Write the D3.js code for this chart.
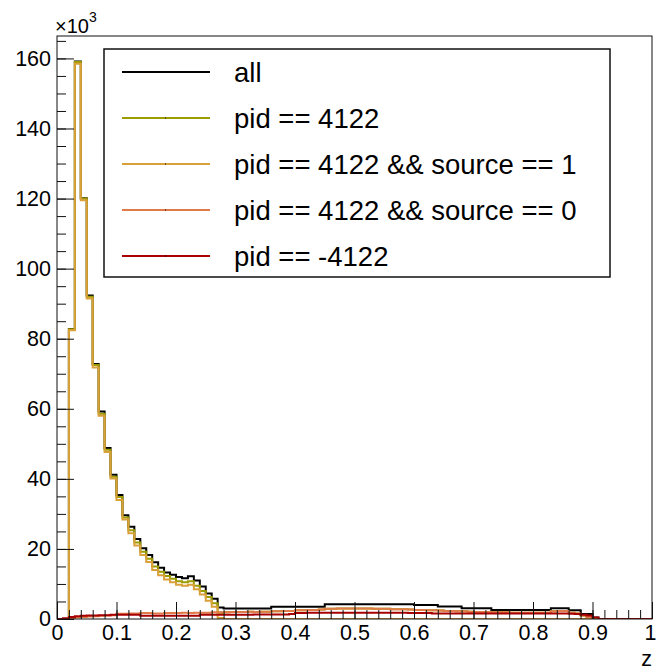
<!DOCTYPE html>
<html>
<head>
<meta charset="utf-8">
<script src="https://cdn.jsdelivr.net/npm/d3@7"></script>
<style>
  body { margin: 0; background: #fff; }
  text { font-family: "Liberation Sans", Arial, sans-serif; fill: #000; }
</style>
</head>
<body>
<script>
// histogram binning: 100 bins on z in [0,1]
const zMin = 0, zMax = 1, nBins = 100;

// bin contents in units of 10^3 entries
const allCounts = [
  0, 0, 82.8, 159.1, 120.1, 92.3, 72.8, 59.2, 48.8, 41.2,
  35.4, 29.6, 26.3, 22.8, 20.2, 18.3, 16.2, 14.6, 13.3, 12.6,
  12.0, 11.6, 12.2, 11.0, 9.3, 7.3, 5.8, 3.3, 3.0, 3.0,
  3.0, 3.0, 3.0, 3.0, 3.0, 3.0, 3.5, 3.5, 3.5, 3.5,
  3.5, 3.5, 3.5, 3.5, 3.5, 4.2, 4.2, 4.2, 4.2, 4.2,
  4.2, 4.2, 4.2, 4.2, 4.2, 4.2, 4.2, 4.2, 4.2, 4.2,
  4.0, 4.0, 4.0, 4.0, 3.6, 3.6, 3.6, 3.6, 3.1, 3.1,
  3.1, 3.1, 3.1, 2.6, 2.6, 2.6, 2.6, 2.6, 2.6, 2.6,
  2.6, 2.6, 2.6, 3.1, 3.1, 3.1, 2.5, 2.5, 1.4, 1.4,
  0.4, 0, 0, 0, 0, 0, 0, 0, 0, 0
];
const pidCounts = [
  0, 0, 82.7, 159.0, 120.0, 92.0, 72.5, 58.6, 48.3, 40.6,
  34.8, 29.0, 25.3, 21.8, 19.2, 17.2, 15.0, 13.5, 12.3, 11.5,
  10.8, 10.5, 10.8, 9.5, 8.0, 6.3, 4.5, 1.8, 1.9, 2.0,
  2.0, 2.0, 2.1, 2.0, 2.1, 2.1, 2.2, 2.2, 2.3, 2.3,
  2.5, 2.5, 2.6, 2.6, 2.7, 2.9, 2.9, 3.0, 3.0, 3.0,
  3.0, 3.0, 3.0, 2.9, 2.9, 2.9, 2.8, 2.8, 2.8, 2.7,
  2.6, 2.6, 2.5, 2.5, 2.4, 2.3, 2.3, 2.2, 2.2, 2.1,
  2.0, 2.0, 2.0, 1.9, 1.9, 1.9, 1.8, 1.8, 1.8, 1.8,
  1.8, 1.8, 1.8, 2.2, 2.3, 2.3, 1.8, 1.6, 1.0, 0.6,
  0, 0, 0, 0, 0, 0, 0, 0, 0, 0
];
const source1Counts = [
  0, 0, 82.4, 158.5, 119.5, 91.5, 71.8, 58.0, 47.7, 40.1,
  34.0, 28.4, 24.5, 21.0, 18.3, 16.3, 14.0, 12.5, 11.3, 10.5,
  9.8, 9.5, 9.8, 8.5, 7.0, 5.2, 3.5, 0.3, 0, 0,
  0, 0, 0, 0, 0, 0, 0, 0, 0, 0,
  0, 0, 0, 0, 0, 0, 0, 0, 0, 0,
  0, 0, 0, 0, 0, 0, 0, 0, 0, 0,
  0, 0, 0, 0, 0, 0, 0, 0, 0, 0,
  0, 0, 0, 0, 0, 0, 0, 0, 0, 0,
  0, 0, 0, 0, 0, 0, 0, 0, 0, 0,
  0, 0, 0, 0, 0, 0, 0, 0, 0, 0
];
const source0Counts = [
  0, 0, 0.3, 0.5, 0.6, 0.7, 0.8, 0.9, 1.0, 1.1,
  1.5, 1.5, 1.6, 1.6, 1.7, 1.7, 1.6, 1.6, 1.7, 1.7,
  1.7, 1.8, 1.7, 1.8, 1.8, 1.8, 1.9, 1.9, 1.9, 2.0,
  2.0, 2.0, 2.1, 2.0, 2.1, 2.1, 2.2, 2.2, 2.3, 2.3,
  2.5, 2.5, 2.6, 2.6, 2.7, 2.9, 2.9, 3.0, 3.0, 3.0,
  3.0, 3.0, 3.0, 2.9, 2.9, 2.9, 2.8, 2.8, 2.8, 2.7,
  2.6, 2.6, 2.5, 2.5, 2.4, 2.3, 2.3, 2.2, 2.2, 2.1,
  2.0, 2.0, 2.0, 1.9, 1.9, 1.9, 1.8, 1.8, 1.8, 1.8,
  1.8, 1.8, 1.8, 2.2, 2.3, 2.3, 1.8, 1.6, 1.0, 0.6,
  0, 0, 0, 0, 0, 0, 0, 0, 0, 0
];
const antiCounts = [
  0, 0.2, 0.6, 0.8, 0.9, 1.0, 1.0, 1.1, 1.1, 1.2,
  1.2, 1.2, 1.2, 1.2, 0.9, 0.9, 0.9, 0.9, 0.9, 0.9,
  0.9, 0.9, 0.9, 0.9, 1.2, 1.2, 1.2, 1.2, 1.2, 1.2,
  1.2, 1.2, 1.2, 1.3, 1.3, 1.3, 1.3, 1.3, 1.3, 1.4,
  1.7, 1.7, 1.8, 1.8, 1.8, 1.8, 1.8, 1.8, 1.8, 1.8,
  1.8, 1.8, 1.8, 1.8, 1.8, 1.8, 1.8, 1.8, 1.8, 1.7,
  1.7, 1.7, 1.7, 1.6, 1.6, 1.6, 1.6, 1.6, 1.6, 1.6,
  1.6, 1.6, 1.6, 1.6, 1.6, 1.6, 1.6, 1.6, 1.6, 1.6,
  1.6, 1.6, 1.6, 1.6, 1.6, 1.6, 1.5, 1.4, 1.2, 1.0,
  0.4, 0, 0, 0, 0, 0, 0, 0, 0, 0
];

const seriesNames = ["all", "pid == 4122", "pid == 4122 && source == 1", "pid == 4122 && source == 0", "pid == -4122"];
const seriesColors = ["#000000", "#9c9c00", "#daa03a", "#e07a48", "#a80000"];
const seriesCounts = [allCounts, pidCounts, source1Counts, source0Counts, antiCounts];

const yTicks = [0, 20, 40, 60, 80, 100, 120, 140, 160];
const xTicks = [0, 0.1, 0.2, 0.3, 0.4, 0.5, 0.6, 0.7, 0.8, 0.9, 1];

const W = 656, H = 671;
const frame = {left: 57, right: 652, top: 36, bottom: 619};

const svg = d3.select("body").append("svg")
  .attr("width", W)
  .attr("height", H);

const x = d3.scaleLinear().domain([zMin, zMax]).range([frame.left, frame.right]);
const y = d3.scaleLinear().domain([0, 166.4]).range([frame.bottom, frame.top]);

svg.append("clipPath").attr("id", "frameClip")
  .append("rect")
  .attr("x", frame.left).attr("y", frame.top - 2)
  .attr("width", frame.right - frame.left)
  .attr("height", frame.bottom - frame.top + 2);

// step outlines, like ROOT "HIST"
const binWidth = (zMax - zMin) / nBins;
const line = d3.line()
  .x(d => x(d[0]))
  .y(d => y(d[1]))
  .curve(d3.curveStepAfter);

const histG = svg.append("g").attr("clip-path", "url(#frameClip)");
seriesCounts.forEach((counts, k) => {
  let pts = counts.map((v, i) => [zMin + i * binWidth, v]);
  pts.push([zMax, counts[counts.length - 1]]);
  histG.append("path")
    .attr("d", line(pts))
    .attr("fill", "none")
    .attr("stroke", seriesColors[k])
    .attr("stroke-width", 2);
});

// axes with inward ticks
const yMinor = d3.range(0, 166, 5);
svg.append("g")
  .attr("transform", `translate(${frame.left},0)`)
  .call(d3.axisLeft(y).tickValues(yMinor).tickSize(-9).tickFormat(""))
  .call(g => g.select(".domain").remove());
svg.append("g")
  .attr("transform", `translate(${frame.left},0)`)
  .call(d3.axisLeft(y).tickValues(yTicks).tickSize(-17).tickPadding(6).tickFormat(d3.format("d")))
  .call(g => g.select(".domain").remove())
  .call(g => g.selectAll("text").attr("font-size", 21.5).attr("font-family", "Liberation Sans, Arial, sans-serif"));

const xMinor = d3.range(0, 1.001, 0.02);
svg.append("g")
  .attr("transform", `translate(0,${frame.bottom})`)
  .call(d3.axisBottom(x).tickValues(xMinor).tickSize(-9).tickFormat(""))
  .call(g => g.select(".domain").remove());
svg.append("g")
  .attr("transform", `translate(0,${frame.bottom})`)
  .call(d3.axisBottom(x).tickValues(xTicks).tickSize(-17).tickPadding(6).tickFormat(d => d === 0 ? "0" : d === 1 ? "1" : d3.format(".1f")(d)))
  .call(g => g.select(".domain").remove())
  .call(g => g.selectAll("text").attr("font-size", 21.5).attr("font-family", "Liberation Sans, Arial, sans-serif"))
  .call(g => g.selectAll(".tick").filter(d => d === 1).select("text").attr("dx", -2));

svg.selectAll(".tick line").attr("stroke", "#111");

// frame
svg.append("rect")
  .attr("x", frame.left).attr("y", frame.top)
  .attr("width", frame.right - frame.left)
  .attr("height", frame.bottom - frame.top)
  .attr("fill", "none")
  .attr("stroke", "#111")
  .attr("stroke-width", 1);

// exponent label
const expo = svg.append("text")
  .attr("x", 55).attr("y", 33)
  .attr("font-size", 20);
expo.append("tspan").text("\u00d710");
expo.append("tspan").attr("dy", -11).attr("font-size", 14).text("3");

// x title
svg.append("text")
  .attr("x", frame.right).attr("y", 666)
  .attr("text-anchor", "end")
  .attr("font-size", 21.5)
  .text("z");

// legend
const leg = {x0: 104, y0: 49, x1: 610, y1: 277};
svg.append("rect")
  .attr("x", leg.x0).attr("y", leg.y0)
  .attr("width", leg.x1 - leg.x0).attr("height", leg.y1 - leg.y0)
  .attr("fill", "#fff")
  .attr("stroke", "#111")
  .attr("stroke-width", 1.5);

const legY = d3.scalePoint().domain(seriesNames).range([72, 256]);
seriesNames.forEach((name, k) => {
  const yy = legY(name);
  svg.append("line")
    .attr("x1", 122).attr("x2", 210)
    .attr("y1", yy).attr("y2", yy)
    .attr("stroke", seriesColors[k])
    .attr("stroke-width", 2);
  if (k > 0) {
    svg.append("rect")
      .attr("x", 165).attr("y", yy - 0.5)
      .attr("width", 1).attr("height", 1)
      .attr("fill", "#000");
  }
  svg.append("text")
    .attr("x", 234).attr("y", yy)
    .attr("dy", "0.36em")
    .attr("font-size", 27.5)
    .text(name);
});
</script>
</body>
</html>
